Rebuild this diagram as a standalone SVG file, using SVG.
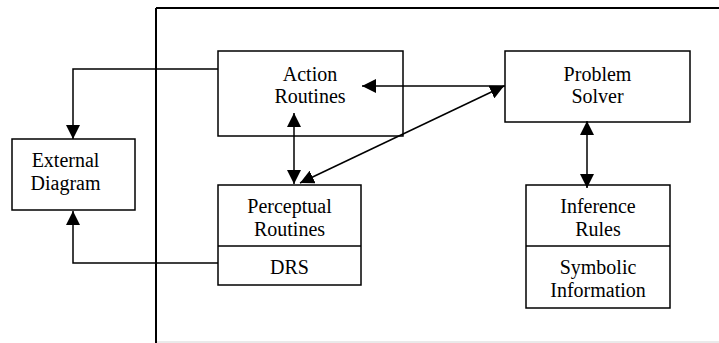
<svg xmlns="http://www.w3.org/2000/svg" width="719" height="343" viewBox="0 0 719 343">
<style>
  .box { fill: #ffffff; stroke: #000000; stroke-width: 1.5; }
  .div { stroke: #000000; stroke-width: 1.5; }
  .lbl { font-family: "Liberation Serif", "Times New Roman", serif; font-size: 20px; fill: #000000; text-anchor: middle; }
  .conn { fill: none; stroke: #000000; stroke-width: 1.5; }
  .frame { fill: none; stroke: #000000; stroke-width: 2; }
</style>
<defs>
  <marker id="ah" markerUnits="userSpaceOnUse" markerWidth="14" markerHeight="14" refX="14" refY="7" orient="auto-start-reverse" viewBox="0 0 14 14">
    <path d="M0,0 L14,7 L0,14 z" fill="#000000"/>
  </marker>
</defs>
<rect width="719" height="343" fill="#ffffff"/>
<g id="frame">
  <line x1="156" y1="8" x2="719" y2="8" class="frame"/>
  <line x1="156" y1="8" x2="156" y2="343" class="frame"/>
  <line x1="157" y1="342" x2="719" y2="342" stroke="#e3e3e3" stroke-width="1.5"/>
</g>
<g id="action-routines">
  <rect x="218" y="51" width="185" height="85" class="box"/>
  <text x="310" y="81" class="lbl">Action</text>
  <text x="310" y="103" class="lbl">Routines</text>
</g>
<g id="problem-solver">
  <rect x="505" y="51" width="185" height="71" class="box"/>
  <text x="597.5" y="80.5" class="lbl">Problem</text>
  <text x="597.5" y="103" class="lbl">Solver</text>
</g>
<g id="external-diagram">
  <rect x="12" y="139" width="123" height="71" class="box"/>
  <text x="65.5" y="167" class="lbl">External</text>
  <text x="65.5" y="190" class="lbl">Diagram</text>
</g>
<g id="perceptual-routines">
  <rect x="218" y="185" width="143" height="100" class="box"/>
  <line x1="218" y1="246" x2="361" y2="246" class="div"/>
  <text x="289.5" y="213" class="lbl">Perceptual</text>
  <text x="289.5" y="236" class="lbl">Routines</text>
  <text x="289.5" y="274" class="lbl">DRS</text>
</g>
<g id="inference-rules">
  <rect x="526" y="185" width="144" height="123" class="box"/>
  <line x1="526" y1="246" x2="670" y2="246" class="div"/>
  <text x="598" y="213" class="lbl">Inference</text>
  <text x="598" y="236" class="lbl">Rules</text>
  <text x="598" y="274" class="lbl">Symbolic</text>
  <text x="598" y="297" class="lbl">Information</text>
</g>
<g id="connectors">
  <polyline points="218,69 73,69 73,139" class="conn" marker-end="url(#ah)"/>
  <polyline points="218,263 73,263 73,211" class="conn" marker-end="url(#ah)"/>
  <line x1="505" y1="86" x2="362" y2="86" class="conn" marker-end="url(#ah)"/>
  <line x1="300" y1="183" x2="504" y2="86" class="conn" marker-start="url(#ah)" marker-end="url(#ah)"/>
  <line x1="294" y1="113" x2="294" y2="184" class="conn" marker-start="url(#ah)" marker-end="url(#ah)"/>
  <line x1="587" y1="121" x2="587" y2="188" class="conn" marker-start="url(#ah)" marker-end="url(#ah)"/>
</g>
</svg>
